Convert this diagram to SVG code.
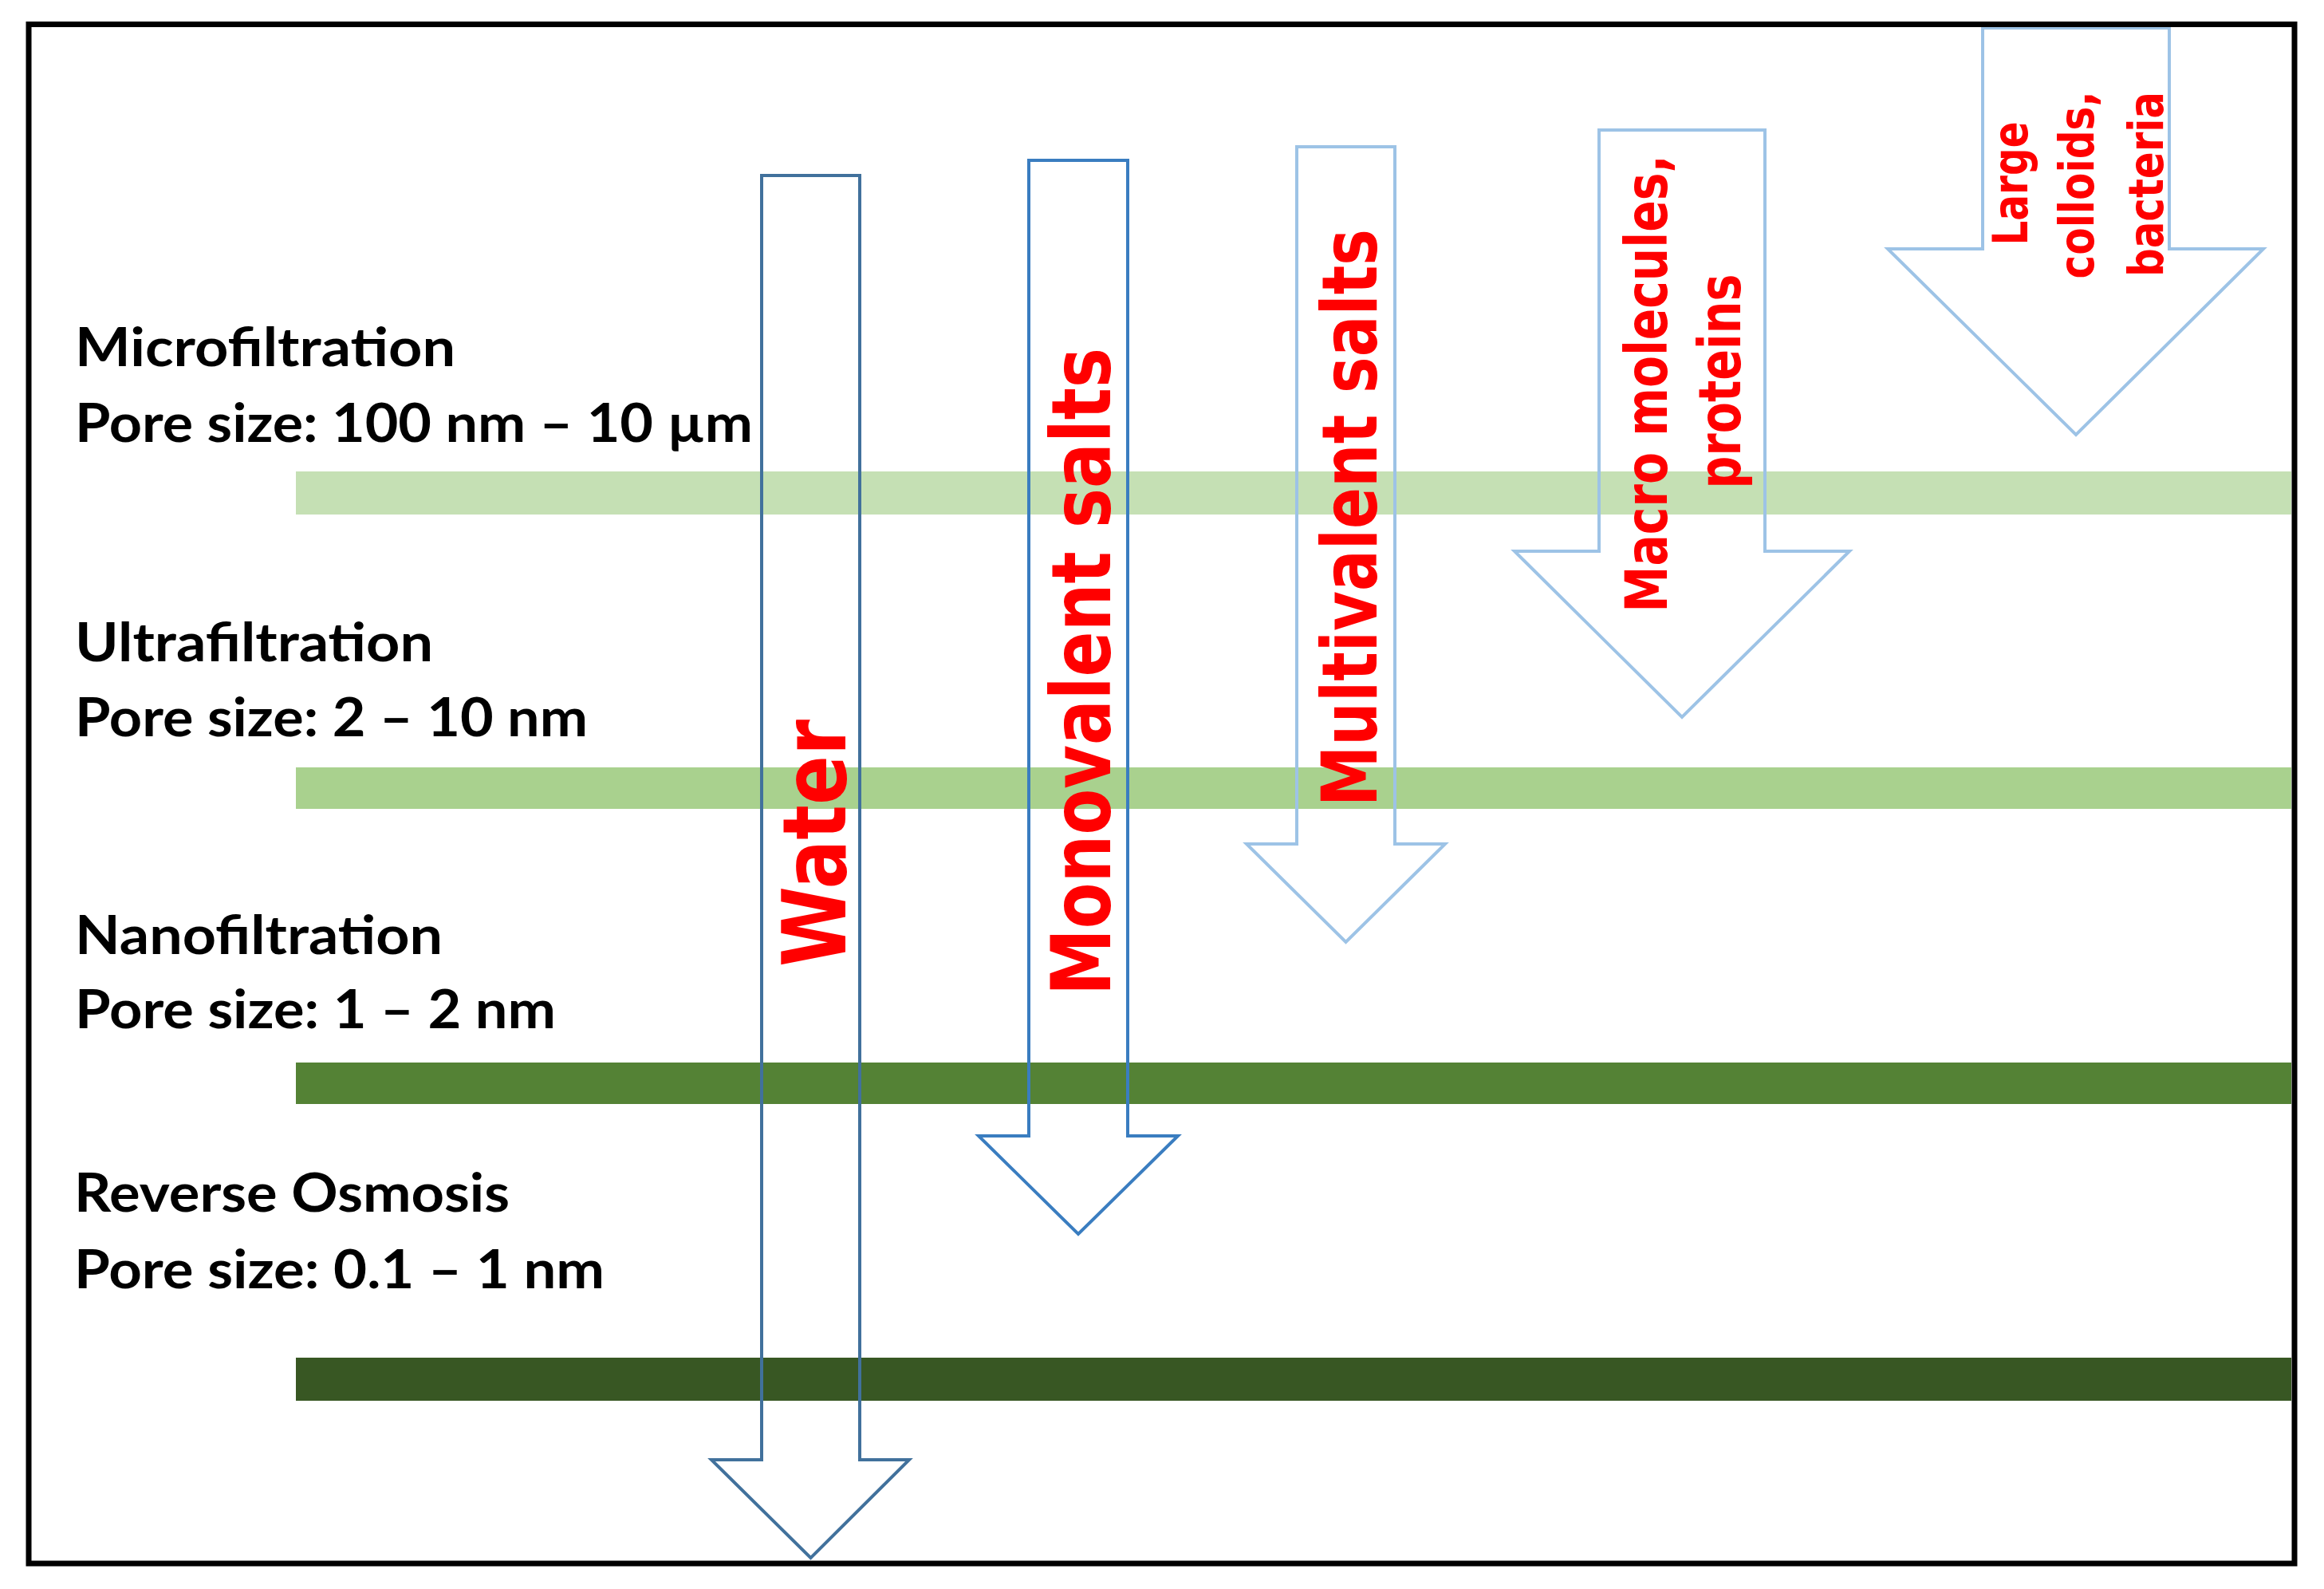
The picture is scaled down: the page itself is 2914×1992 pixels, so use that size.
<svg xmlns="http://www.w3.org/2000/svg" width="2914" height="1992" viewBox="0 0 2914 1992">
  <style>
    .lbl { font-family: Lato, "Open Sans", "Liberation Sans", sans-serif; font-weight: bold; font-size: 67px; fill: #000000; }
    .red { font-family: "DejaVu Sans", Verdana, sans-serif; font-weight: bold; fill: #FF0000; text-anchor: middle; }
    .arrow { fill: none; stroke-width: 4; stroke-linejoin: miter; }
    .a-dark { stroke: #41719C; }
    .a-mid { stroke: #3A7DC0; }
    .a-light { stroke: #9DC3E6; }
  </style>
  <rect x="0" y="0" width="2914" height="1992" fill="#FFFFFF"/>

  <g id="membranes">
    <g id="microfiltration">
      <rect x="371" y="591" width="2502" height="54" fill="#C5E0B4"/>
      <text class="lbl" x="94" y="459" textLength="477" lengthAdjust="spacingAndGlyphs">Microfiltration</text>
      <text class="lbl" x="94" y="554" textLength="850" lengthAdjust="spacingAndGlyphs">Pore size: 100 nm – 10 µm</text>
    </g>
    <g id="ultrafiltration">
      <rect x="371" y="962" width="2502" height="52" fill="#A9D18E"/>
      <text class="lbl" x="94" y="829" textLength="449" lengthAdjust="spacingAndGlyphs">Ultrafiltration</text>
      <text class="lbl" x="94" y="923" textLength="643" lengthAdjust="spacingAndGlyphs">Pore size: 2 – 10 nm</text>
    </g>
    <g id="nanofiltration">
      <rect x="371" y="1332" width="2502" height="52" fill="#548235"/>
      <text class="lbl" x="94" y="1196" textLength="461" lengthAdjust="spacingAndGlyphs">Nanofiltration</text>
      <text class="lbl" x="94" y="1289" textLength="603" lengthAdjust="spacingAndGlyphs">Pore size: 1 – 2 nm</text>
    </g>
    <g id="reverse-osmosis">
      <rect x="371" y="1702" width="2502" height="54" fill="#385723"/>
      <text class="lbl" x="93" y="1519" textLength="546" lengthAdjust="spacingAndGlyphs">Reverse Osmosis</text>
      <text class="lbl" x="93" y="1615" textLength="665" lengthAdjust="spacingAndGlyphs">Pore size: 0.1 – 1 nm</text>
    </g>
  </g>

  <g id="connectors">
    <g id="water">
      <path class="arrow a-dark" d="M955,220 H1078 V1830 H1140 L1016.5,1953 L892,1830 H955 Z"/>
      <text class="red" font-size="110" transform="translate(1060,1057) rotate(-90)" textLength="310" lengthAdjust="spacingAndGlyphs">Water</text>
    </g>
    <g id="monovalent">
      <path class="arrow a-mid" d="M1290,201 H1414 V1424 H1477 L1352,1547 L1227,1424 H1290 Z"/>
      <text class="red" font-size="104" transform="translate(1392,842) rotate(-90)" textLength="812" lengthAdjust="spacingAndGlyphs">Monovalent salts</text>
    </g>
    <g id="multivalent">
      <path class="arrow a-light" d="M1626,184 H1749 V1058 H1812 L1687.5,1181 L1563,1058 H1626 Z"/>
      <text class="red" font-size="97" transform="translate(1726,649) rotate(-90)" textLength="724" lengthAdjust="spacingAndGlyphs">Multivalent salts</text>
    </g>
    <g id="macromolecules">
      <path class="arrow a-light" d="M2005,163 H2213 V691 H2319 L2109,899 L1899,691 H2005 Z"/>
      <text class="red" font-size="73" transform="translate(2090,481) rotate(-90)" textLength="573" lengthAdjust="spacingAndGlyphs">Macro molecules,</text>
      <text class="red" font-size="73" transform="translate(2182,478) rotate(-90)" textLength="269" lengthAdjust="spacingAndGlyphs">proteins</text>
    </g>
    <g id="colloids">
      <path class="arrow a-light" d="M2486,35 H2720 V312 H2838 L2603,545 L2367,312 H2486 Z"/>
      <text class="red" font-size="60" transform="translate(2542,230) rotate(-90)" textLength="155" lengthAdjust="spacingAndGlyphs">Large</text>
      <text class="red" font-size="60" transform="translate(2625,232) rotate(-90)" textLength="235" lengthAdjust="spacingAndGlyphs">colloids,</text>
      <text class="red" font-size="60" transform="translate(2712,231) rotate(-90)" textLength="232" lengthAdjust="spacingAndGlyphs">bacteria</text>
    </g>
  </g>

  <rect id="frame" x="36" y="30.5" width="2841" height="1929.5" fill="none" stroke="#000000" stroke-width="7"/>
</svg>
